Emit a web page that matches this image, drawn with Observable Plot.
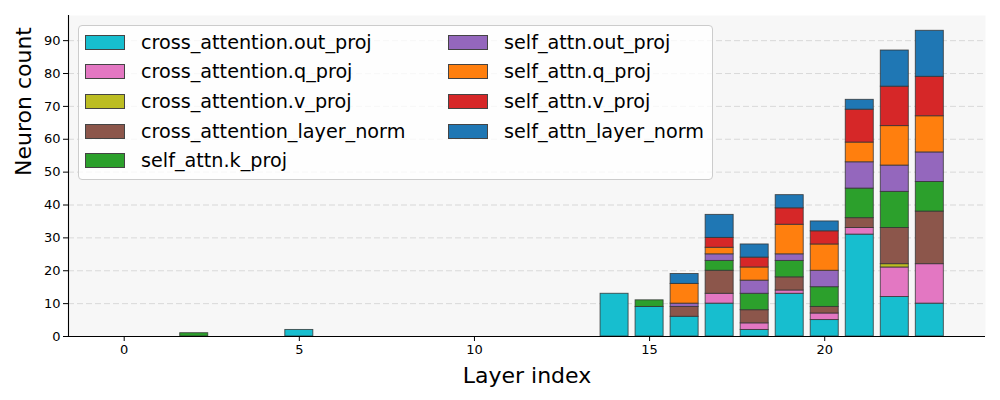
<!DOCTYPE html>
<html>
<head>
<meta charset="utf-8">
<script src="https://cdn.jsdelivr.net/npm/d3@7"></script>
<script src="https://cdn.jsdelivr.net/npm/@observablehq/plot@0.6"></script>
<style>
  html, body { margin: 0; padding: 0; background: #ffffff; }
  #wrap { position: relative; width: 1000px; height: 400px; font-family: "DejaVu Sans", sans-serif; }
  #legend { position: absolute; left: 78px; top: 25px; width: 635px; height: 155px;
    background: rgba(255,255,255,0.8); border: 1px solid #cccccc; border-radius: 4px; box-sizing: border-box; }
  .item { position: absolute; display: flex; align-items: center; height: 30px;
    font-size: 19.2px; color: #000; white-space: nowrap; }
  .sw { width: 38px; height: 13px; border: 1px solid #444; margin-right: 16px; flex: none; }
</style>
</head>
<body>
<div id="wrap"><div id="chart"></div><div id="legend"></div></div>
<script>
const layers = d3.range(0, 24);
const seriesNames = [
  "cross_attention.out_proj",
  "cross_attention.q_proj",
  "cross_attention.v_proj",
  "cross_attention_layer_norm",
  "self_attn.k_proj",
  "self_attn.out_proj",
  "self_attn.q_proj",
  "self_attn.v_proj",
  "self_attn_layer_norm"
];
const seriesColors = ["#17becf", "#e377c2", "#bcbd22", "#8c564b", "#2ca02c", "#9467bd", "#ff7f0e", "#d62728", "#1f77b4"];
//                       0 1 2 3 4 5 6 7 8 9 10 11 12 13 14 15 16 17 18 19 20 21 22 23
const crossOutProj   = [0,0,0,0,0,2,0,0,0,0, 0, 0, 0, 0,13, 9, 6,10, 2,13, 5,31,12,10];
const crossQProj     = [0,0,0,0,0,0,0,0,0,0, 0, 0, 0, 0, 0, 0, 0, 3, 2, 1, 2, 2, 9,12];
const crossVProj     = [0,0,0,0,0,0,0,0,0,0, 0, 0, 0, 0, 0, 0, 0, 0, 0, 0, 0, 0, 1, 0];
const crossLayerNorm = [0,0,0,0,0,0,0,0,0,0, 0, 0, 0, 0, 0, 0, 3, 7, 4, 4, 2, 3,11,16];
const selfKProj      = [0,0,1,0,0,0,0,0,0,0, 0, 0, 0, 0, 0, 2, 0, 3, 5, 5, 6, 9,11, 9];
const selfOutProj    = [0,0,0,0,0,0,0,0,0,0, 0, 0, 0, 0, 0, 0, 1, 2, 4, 2, 5, 8, 8, 9];
const selfQProj      = [0,0,0,0,0,0,0,0,0,0, 0, 0, 0, 0, 0, 0, 6, 2, 4, 9, 8, 6,12,11];
const selfVProj      = [0,0,0,0,0,0,0,0,0,0, 0, 0, 0, 0, 0, 0, 0, 3, 3, 5, 4,10,12,12];
const selfLayerNorm  = [0,0,0,0,0,0,0,0,0,0, 0, 0, 0, 0, 0, 0, 3, 7, 4, 4, 3, 3,11,14];
const seriesValues = [crossOutProj, crossQProj, crossVProj, crossLayerNorm, selfKProj, selfOutProj, selfQProj, selfVProj, selfLayerNorm];
const xTicks = [0, 5, 10, 15, 20];
const yTicks = [0, 10, 20, 30, 40, 50, 60, 70, 80, 90];

const data = [];
layers.forEach((layer, i) => {
  seriesNames.forEach((s, j) => data.push({layer, series: s, value: seriesValues[j][i]}));
});
const totals = layers.map((l, i) => d3.sum(seriesValues, v => v[i]));
const barW = 0.8;
const lo = d3.min(layers) - barW / 2, hi = d3.max(layers) + barW / 2;
const xDomain = [lo - 0.05 * (hi - lo), hi + 0.05 * (hi - lo)];
const yDomain = [0, d3.max(totals) * 1.05];

const chart = Plot.plot({
  width: 1000, height: 400,
  marginLeft: 68, marginRight: 15, marginTop: 15, marginBottom: 64,
  style: {fontFamily: "DejaVu Sans, sans-serif", fontSize: "13px", color: "#000", background: "transparent"},
  x: {domain: xDomain},
  y: {domain: yDomain},
  color: {domain: seriesNames, range: seriesColors},
  marks: [
    Plot.frame({fill: "#f7f7f7", stroke: null}),
    Plot.gridY(yTicks, {stroke: "#c8c8c8", strokeOpacity: 0.8, strokeDasharray: "6,3", strokeWidth: 0.8}),
    Plot.rectY(data, {x1: d => d.layer - barW / 2, x2: d => d.layer + barW / 2, y: "value", fill: "series",
      stroke: "#333", strokeOpacity: 0.85, strokeWidth: 0.9}),
    Plot.ruleY([yDomain[0]], {stroke: "#000", strokeWidth: 1.1}),
    Plot.ruleX([xDomain[0]], {stroke: "#000", strokeWidth: 1.1}),
    Plot.axisX(xTicks, {tickSize: 5, tickPadding: 3, fontSize: 13, label: null}),
    Plot.axisY(yTicks, {tickSize: 5, tickPadding: 3, fontSize: 13, label: null}),
    Plot.text(["Layer index"], {frameAnchor: "bottom", dy: 39, fontSize: 22, lineAnchor: "middle"}),
    Plot.text(["Neuron count"], {frameAnchor: "left", dx: -45, rotate: -90, fontSize: 22, lineAnchor: "middle"})
  ]
});
document.getElementById("chart").appendChild(chart);

const legend = document.getElementById("legend");
seriesNames.forEach((s, i) => {
  const col = i < 5 ? 0 : 1, row = i < 5 ? i : i - 5;
  const item = document.createElement("div");
  item.className = "item";
  item.style.left = (col === 0 ? 6 : 369) + "px";
  item.style.top = (1 + row * 29.7) + "px";
  const sw = document.createElement("span");
  sw.className = "sw";
  sw.style.background = seriesColors[i];
  const t = document.createElement("span");
  t.textContent = s;
  item.appendChild(sw); item.appendChild(t);
  legend.appendChild(item);
});
</script>
</body>
</html>
